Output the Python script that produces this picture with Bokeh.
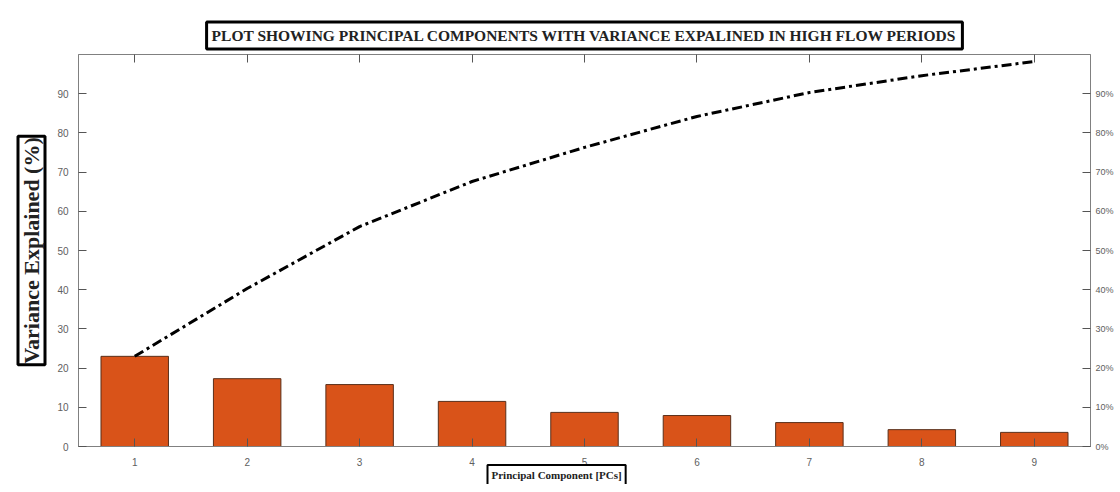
import math
from bokeh.plotting import figure
from bokeh.models import Range1d, LinearAxis, FixedTicker, PrintfTickFormatter, Title, CustomJSTickFormatter
from bokeh.embed import file_html
from bokeh.resources import INLINE

# Data
pcs = [1, 2, 3, 4, 5, 6, 7, 8, 9]
variance = [23.0, 17.3, 15.8, 11.5, 8.7, 7.9, 6.1, 4.3, 3.6]
cumulative = [23.0, 40.3, 56.1, 67.6, 76.3, 84.2, 90.3, 94.6, 98.2]
y_ticks = [0, 10, 20, 30, 40, 50, 60, 70, 80, 90]

title_text = "PLOT SHOWING PRINCIPAL COMPONENTS WITH VARIANCE EXPALINED IN HIGH FLOW PERIODS"
ylabel_text = "Variance Explained (%)"
xlabel_text = "Principal Component [PCs]"

SERIF = "Liberation Serif"
SANS = "Liberation Sans"
GRAY = "#808080"
TICKLAB = "#606060"

p = figure(
    frame_width=1012, frame_height=392,
    x_range=Range1d(0.5, 9.5), y_range=Range1d(0, 100),
    output_backend="svg", toolbar_location=None,
    min_border_left=78, min_border_right=22, min_border_top=54, min_border_bottom=38,
    background_fill_color="white", border_fill_color="white",
    title=title_text,
)

p.title.align = "center"
p.title.text_font = SERIF
p.title.text_font_style = "bold"
p.title.text_font_size = "15.5px"
p.title.text_color = "#222222"
p.title.border_line_color = "black"
p.title.border_line_width = 3
p.title.background_fill_color = "white"
p.title.padding = 5
p.title.standoff = 11

p.grid.visible = False
p.outline_line_color = GRAY
p.outline_line_width = 1

p.vbar(x=pcs, top=variance, width=0.6, fill_color="#D95319",
       line_color="#5a2f1a", line_width=1)
p.line(pcs, cumulative, line_color="black", line_width=3, line_dash="10 4 3 4")

# bottom axis
xa = p.xaxis[0]
xa.ticker = FixedTicker(ticks=pcs)
xa.major_tick_in = 8
xa.major_tick_out = 0
xa.minor_tick_line_color = None
xa.axis_line_color = GRAY
xa.major_tick_line_color = "#555555"
xa.major_label_text_font = SANS
xa.major_label_text_font_size = "10px"
xa.major_label_text_color = TICKLAB
xa.major_label_standoff = 11

# left axis
ya = p.yaxis[0]
ya.ticker = FixedTicker(ticks=y_ticks)
ya.major_tick_in = 8
ya.major_tick_out = 0
ya.minor_tick_line_color = None
ya.axis_line_color = GRAY
ya.major_tick_line_color = "#555555"
ya.major_label_text_font = SANS
ya.major_label_text_font_size = "10px"
ya.major_label_text_color = TICKLAB
ya.major_label_standoff = 10

# right axis (percent)
ra = LinearAxis(ticker=FixedTicker(ticks=y_ticks), formatter=PrintfTickFormatter(format="%d%%"))
ra.major_tick_in = 8
ra.major_tick_out = 0
ra.minor_tick_line_color = None
ra.axis_line_color = GRAY
ra.major_tick_line_color = "#555555"
ra.major_label_text_font = SANS
ra.major_label_text_font_size = "9px"
ra.major_label_text_color = TICKLAB
ra.major_label_standoff = 5
p.add_layout(ra, "right")

# top axis: ticks only
ta = LinearAxis(ticker=FixedTicker(ticks=pcs), formatter=CustomJSTickFormatter(code="return ''"))
ta.major_tick_in = 8
ta.major_tick_out = 0
ta.minor_tick_line_color = None
ta.axis_line_color = None
ta.major_tick_line_color = "#555555"
ta.major_label_standoff = 0
p.add_layout(ta, "above")

# boxed axis titles as side-panel titles
ylab = Title(text=ylabel_text, align="center",
             text_font=SERIF, text_font_style="bold", text_font_size="22px",
             text_color="#222222",
             border_line_color="black", border_line_width=3, padding=1,
             background_fill_color="white", standoff=19)
p.add_layout(ylab, "left")

xlab = Title(text=xlabel_text, align="left", offset=409,
             text_font=SERIF, text_font_style="bold", text_font_size="11px",
             text_color="#222222",
             border_line_color="black", border_line_width=2, padding=4,
             background_fill_color="white", standoff=-11)
p.add_layout(xlab, "below")

open("out.html", "w").write(file_html(p, INLINE))
